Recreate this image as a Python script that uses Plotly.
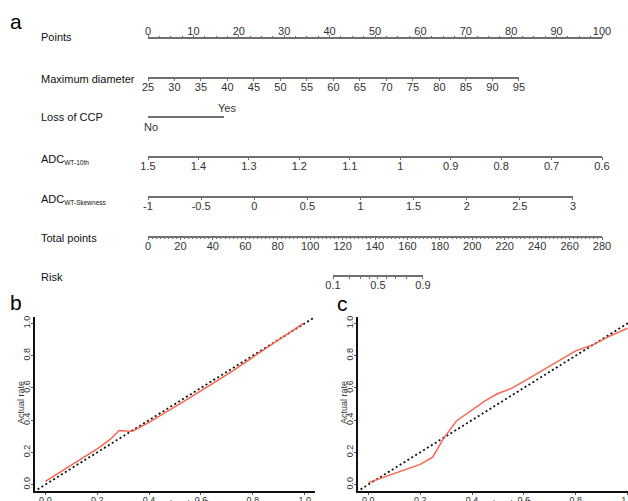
import math
import plotly.graph_objects as go

W, H = 628, 501
FONT = "Liberation Sans, Arial, sans-serif"

# ---------------- nomogram data (panel a) ----------------
row_names = ["Points", "Maximum diameter", "Loss of CCP",
             "ADC<sub><span style='font-size:6.5px'>WT-10th</span></sub>",
             "ADC<sub><span style='font-size:6.5px'>WT-Skewness</span></sub>",
             "Total points", "Risk"]

points_ticks = [0, 10, 20, 30, 40, 50, 60, 70, 80, 90, 100]
points_minor = [i * 2.5 for i in range(41)]

diam_ticks = [25, 30, 35, 40, 45, 50, 55, 60, 65, 70, 75, 80, 85, 90, 95]
diam_pts = [0, 81.7]            # points for 25 and 95

ccp_levels = ["No", "Yes"]
ccp_pts = [0, 16.7]             # points for No and Yes

adc10_ticks = [1.5, 1.4, 1.3, 1.2, 1.1, 1.0, 0.9, 0.8, 0.7, 0.6]
adc10_labels = ["1.5", "1.4", "1.3", "1.2", "1.1", "1", "0.9", "0.8", "0.7", "0.6"]
adc10_pts = [0, 100]

skew_ticks = [-1, -0.5, 0, 0.5, 1, 1.5, 2, 2.5, 3]
skew_labels = ["-1", "-0.5", "0", "0.5", "1", "1.5", "2", "2.5", "3"]
skew_pts = [0, 93.6]

total_ticks = [0, 20, 40, 60, 80, 100, 120, 140, 160, 180, 200, 220, 240, 260, 280]
total_minor = [i * 2.5 for i in range(113)]
total_max = 280

risk_ticks = [0.1, 0.2, 0.3, 0.4, 0.5, 0.6, 0.7, 0.8, 0.9]
risk_labels = ["0.1", " ", " ", " ", "0.5", " ", " ", " ", "0.9"]
risk_total = [114.1, 169.6]     # total points at risk 0.1 and 0.9

# ---------------- calibration data (panels b, c) ----------------
ideal = [-0.03, 1.04]

b_pred = [0.0, 0.05, 0.10, 0.15, 0.20, 0.25, 0.284, 0.31, 0.336, 0.40, 0.47,
          0.55, 0.66, 0.73, 0.80, 0.87, 0.93, 0.995]
b_actual = [0.02, 0.07, 0.12, 0.17, 0.222, 0.28, 0.335, 0.332, 0.331, 0.386, 0.453,
            0.532, 0.642, 0.713, 0.79, 0.868, 0.93, 1.0]

c_pred = [0.0, 0.05, 0.10, 0.15, 0.20, 0.248, 0.29, 0.34, 0.40, 0.45, 0.50,
          0.55, 0.60, 0.70, 0.80, 0.87, 0.93, 1.0]
c_actual = [0.012, 0.04, 0.065, 0.095, 0.125, 0.17, 0.285, 0.395, 0.465, 0.52, 0.565,
            0.595, 0.64, 0.735, 0.83, 0.87, 0.92, 0.97]

cal_ticks = [0, 0.2, 0.4, 0.6, 0.8, 1.0]
cal_labels = ["0.0", "0.2", "0.4", "0.6", "0.8", "1.0"]

# ---------------- helpers ----------------
def py(p):
    return 1 - p / H

def px(p):
    return p / W

NOMO_L, NOMO_R = 148, 602

def dom(p0, p1):
    a = NOMO_L + (NOMO_R - NOMO_L) * p0 / 100
    b = NOMO_L + (NOMO_R - NOMO_L) * p1 / 100
    return [a / W, b / W]

LINE_C = "#707070"
tick_font = dict(family=FONT, size=11, color="#333333")


def nomo_axis(domain, rng, ypx, tickvals, ticktext, side="bottom", ticks="outside",
              minor_vals=None, standoff=-4):
    d = dict(domain=domain, range=rng, anchor="free", position=py(ypx), side=side,
             showline=True, linecolor=LINE_C, linewidth=1.5,
             tickmode="array", tickvals=tickvals, ticktext=ticktext, tickangle=0,
             ticks=ticks, ticklen=3, tickwidth=1, tickcolor=LINE_C,
             tickfont=tick_font, showgrid=False, zeroline=False, fixedrange=True,
             automargin=False, ticklabeloverflow="allow", ticklabelstandoff=standoff)
    if minor_vals is not None:
        d["minor"] = dict(tickvals=minor_vals, ticks=ticks, ticklen=2,
                          tickcolor=LINE_C, tickwidth=1, showgrid=False)
    return d


row_line_y = [38.3, 77.7, 117.0, 156.7, 196.7, 236.7, 275.7]
row_label_y = [37.5, 79.0, 117.5, 159.5, 199.5, 238.0, 277.0]

def logit(p):
    return math.log(p / (1 - p))

risk_p = [t / total_max * 100 for t in risk_total]

axes = {
    3: nomo_axis(dom(0, 100), [0, 100], row_line_y[0], points_ticks,
                 [str(v) for v in points_ticks], side="top", minor_vals=points_minor,
                 standoff=-5),
    4: nomo_axis(dom(*diam_pts), [diam_ticks[0], diam_ticks[-1]], row_line_y[1],
                 diam_ticks, [str(v) for v in diam_ticks]),
    5: nomo_axis(dom(*ccp_pts), [0, 1], row_line_y[2], [0, 1], [" ", " "], ticks="inside"),
    6: nomo_axis(dom(*adc10_pts), [adc10_ticks[0], adc10_ticks[-1]], row_line_y[3],
                 adc10_ticks, adc10_labels),
    7: nomo_axis(dom(*skew_pts), [skew_ticks[0], skew_ticks[-1]], row_line_y[4],
                 skew_ticks, skew_labels),
    8: nomo_axis(dom(0, 100), [0, total_max], row_line_y[5], total_ticks,
                 [str(v) for v in total_ticks], minor_vals=total_minor),
    9: nomo_axis(dom(*risk_p), [logit(risk_ticks[0]), logit(risk_ticks[-1])], row_line_y[6],
                 [logit(v) for v in risk_ticks], risk_labels),
}

fig = go.Figure()

# invisible anchor traces so every nomogram axis gets drawn
for k, ax in axes.items():
    fig.add_trace(go.Scatter(x=[ax["range"][0], ax["range"][1]], y=[0, 0],
                             xaxis=f"x{k}", yaxis="y3", mode="markers",
                             marker=dict(opacity=0), hoverinfo="skip", showlegend=False))

# calibration curves
RED = "#F8654F"
for xa, ya, xs, ys in [("x", "y", b_pred, b_actual), ("x2", "y2", c_pred, c_actual)]:
    fig.add_trace(go.Scatter(x=ideal, y=ideal, xaxis=xa, yaxis=ya, mode="lines",
                             line=dict(color="#111", width=1.8, dash="2px,2.6px"),
                             hoverinfo="skip", showlegend=False))
    fig.add_trace(go.Scatter(x=xs, y=ys, xaxis=xa, yaxis=ya, mode="lines",
                             line=dict(color=RED, width=1.5),
                             hoverinfo="skip", showlegend=False))

cal_font = dict(family=FONT, size=9, color="#333333")

def cal_x(domain, rng, anchor):
    return dict(domain=domain, range=rng, anchor=anchor, showline=True, linecolor="#111",
                linewidth=2, tickmode="array", tickvals=cal_ticks, ticktext=cal_labels,
                tickangle=0, ticks="outside", ticklen=2, tickcolor="#555", tickfont=cal_font,
                showgrid=False, zeroline=False, fixedrange=True, ticklabeloverflow="allow",
                automargin=False, ticklabelstandoff=-3)

def cal_y(domain, anchor):
    return dict(domain=domain, range=[-0.04, 1.04], anchor=anchor, showline=True,
                linecolor="#111", linewidth=2, tickmode="array", tickvals=cal_ticks,
                ticktext=cal_labels, tickangle=-90, ticks="outside", ticklen=2,
                tickcolor="#555", tickfont=cal_font, showgrid=False, zeroline=False,
                automargin=False, fixedrange=True, ticklabelstandoff=-3)

ydom = [py(491), py(317)]
layout = dict(
    template="none",
    width=W, height=H, margin=dict(l=0, r=0, t=0, b=0, autoexpand=False),
    paper_bgcolor="white", plot_bgcolor="rgba(0,0,0,0)", showlegend=False,
    font=dict(family=FONT, color="#333"),
    xaxis=cal_x([px(35), px(315)], [-0.04, 1.04], "y"),
    yaxis=cal_y(ydom, "x"),
    xaxis2=cal_x([px(358), 1.0], [-0.04, 1.002], "y2"),
    yaxis2=cal_y(ydom, "x2"),
    yaxis3=dict(domain=[0.45, 1.0], range=[0, 1], visible=False, anchor="x3",
                fixedrange=True, automargin=False),
)
for k, ax in axes.items():
    layout[f"xaxis{k}"] = ax
fig.update_layout(**layout)

ann = []
lab_font = dict(family=FONT, size=11, color="#111")
for name, yy in zip(row_names, row_label_y):
    ann.append(dict(text=name, x=px(39), y=py(yy), xref="paper", yref="paper",
                    xanchor="left", yanchor="middle", showarrow=False, font=lab_font))

# Loss of CCP level labels
ann.append(dict(text=ccp_levels[0], x=0, y=py(127), xref="x5", yref="paper",
                xanchor="center", yanchor="middle", showarrow=False, font=tick_font, xshift=3))
ann.append(dict(text=ccp_levels[1], x=1, y=py(108), xref="x5", yref="paper",
                xanchor="center", yanchor="middle", showarrow=False, font=tick_font, xshift=3))

# panel letters
big = dict(family=FONT, size=21, color="#000")
for t, xx, yy in [("a", 16, 21), ("b", 16, 302), ("c", 342, 303)]:
    ann.append(dict(text=t, x=px(xx), y=py(yy), xref="paper", yref="paper",
                    xanchor="center", yanchor="middle", showarrow=False, font=big))

# calibration axis titles
for xx in [21, 344]:
    ann.append(dict(text="Actual rate", x=px(xx), y=py(403), xref="paper", yref="paper",
                    textangle=-90, xanchor="center", yanchor="middle", showarrow=False,
                    font=cal_font))
for xx in [175, 498]:
    ann.append(dict(text="Predicted probability", x=px(xx), y=py(504), xref="paper",
                    yref="paper", xanchor="center", yanchor="middle", showarrow=False,
                    font=cal_font))

fig.update_layout(annotations=ann)
fig.write_html("out.html", config={"displayModeBar": False},
               post_script="document.body.style.margin='0px';"
                           "document.body.style.overflow='hidden';")
